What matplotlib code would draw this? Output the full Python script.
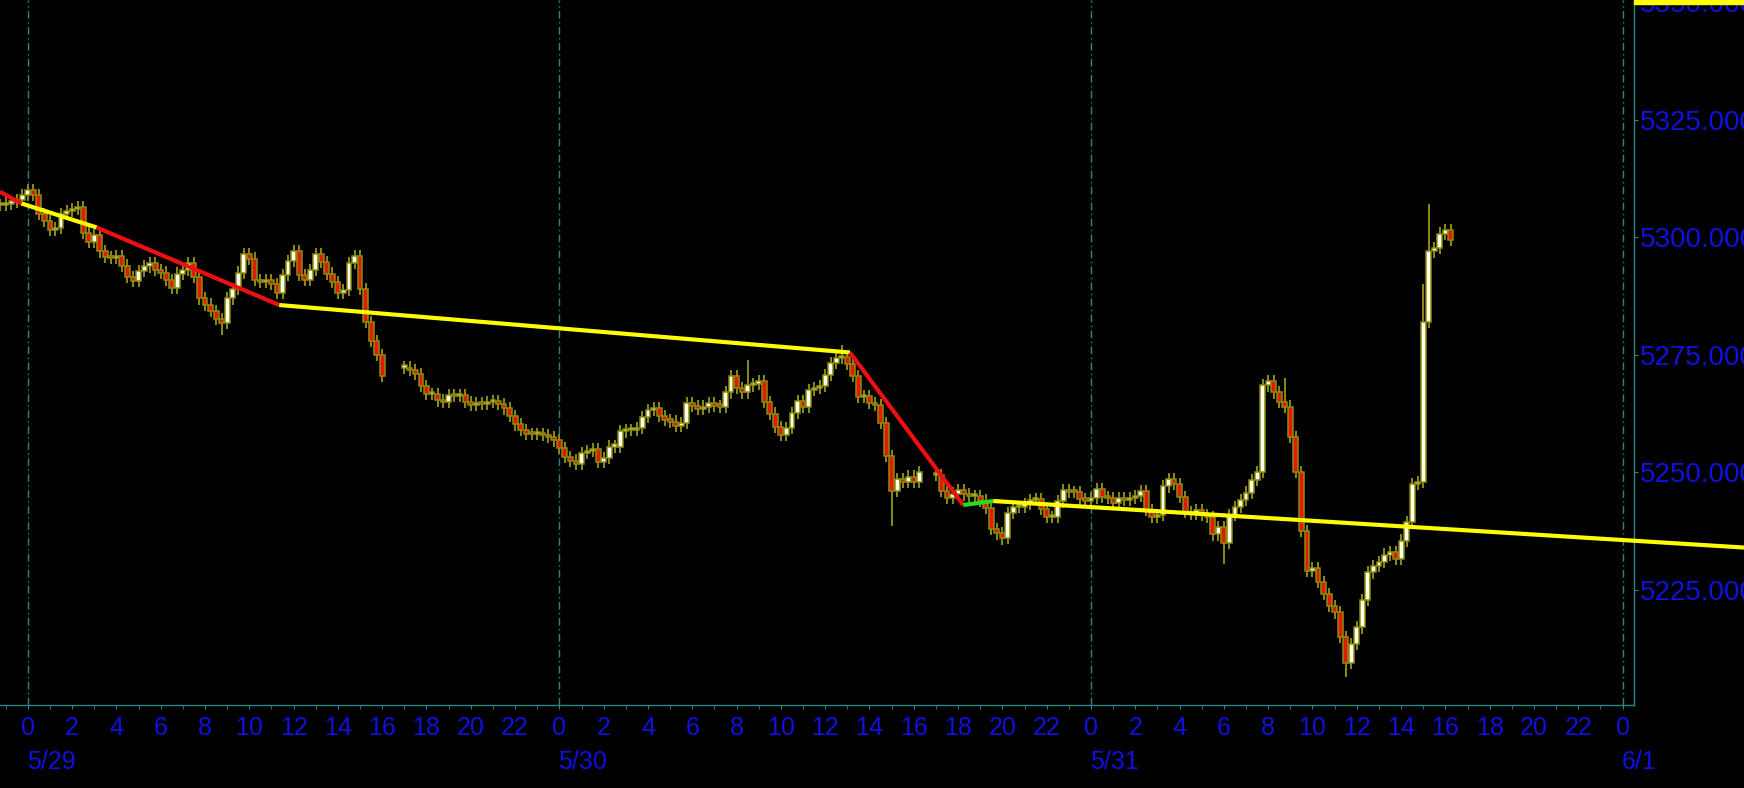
import numpy as np
import matplotlib
matplotlib.use("Agg")
import matplotlib.pyplot as plt
from matplotlib import font_manager
from matplotlib.ticker import MultipleLocator, FuncFormatter
from matplotlib.patches import Rectangle
import matplotlib.transforms as mtransforms

# 15-minute closes, time in hours from 5/29 00:00
s1_start = -1.25
s1_close = [5306.9, 5307.2, 5307.5, 5308.0, 5309.0,
            5310.0, 5309.0, 5305.0, 5303.4, 5301.5, 5302.0, 5305.0, 5305.6,
            5306.0, 5306.5, 5301.0, 5299.0, 5300.5, 5297.0, 5295.8, 5295.6,
            5296.0, 5294.0, 5291.5, 5290.8, 5292.8, 5293.8, 5294.5, 5293.0,
            5292.5, 5291.0, 5289.3, 5292.3, 5293.0, 5294.5, 5291.5, 5287.0,
            5285.7, 5284.4, 5282.6, 5281.7, 5287.0, 5289.0, 5292.5, 5296.5,
            5295.5, 5291.0, 5290.5, 5291.0, 5290.0, 5288.1, 5292.0, 5295.0,
            5297.0, 5292.0, 5291.0, 5293.0, 5296.5, 5294.8, 5292.3, 5290.5,
            5288.2, 5288.8, 5294.5, 5296.0, 5289.0, 5282.0, 5278.0, 5275.0,
            5270.5]

s2_start = 17.0
s2_close = [5272.3, 5271.8, 5271.0, 5268.3, 5266.6, 5266.7, 5265.3, 5265.0,
            5266.4, 5266.2, 5266.4, 5265.0, 5264.4, 5264.7, 5264.5, 5265.0,
            5265.1, 5264.5, 5263.6, 5262.0, 5260.2, 5259.0, 5258.2, 5258.1,
            5258.2, 5258.0, 5257.6, 5256.8, 5255.2, 5253.3, 5252.5, 5251.7,
            5254.1, 5254.5, 5255.0, 5252.3, 5253.0, 5255.5, 5255.5, 5258.7,
            5259.0, 5259.0, 5259.5, 5261.8, 5263.3, 5263.6, 5262.0, 5261.2,
            5260.8, 5259.9, 5260.5, 5264.7, 5264.1, 5263.5, 5264.0, 5264.8,
            5264.2, 5264.0, 5267.0, 5270.5, 5268.0, 5267.0, 5268.5, 5268.8,
            5269.4, 5265.0, 5262.5, 5259.7, 5258.0, 5259.5, 5262.6, 5265.2,
            5264.0, 5267.5, 5268.0, 5268.4, 5270.7, 5273.2, 5274.4, 5274.5,
            5273.0, 5270.5, 5266.1, 5266.3, 5264.8, 5264.4, 5260.5, 5253.5,
            5246.0, 5248.5, 5248.0, 5249.1, 5248.0, 5250.0]

s3_start = 41.0
s3_close = [5249.5, 5246.0, 5244.5, 5245.5, 5246.3, 5245.3, 5244.9, 5245.0,
            5244.0, 5242.5, 5238.0, 5237.0, 5236.0, 5241.3, 5242.7, 5242.7,
            5243.2, 5244.1, 5244.3, 5242.3, 5240.5, 5240.5, 5243.8, 5246.2,
            5245.9, 5245.8, 5244.4, 5244.0, 5244.5, 5246.5, 5244.8, 5244.5,
            5243.5, 5244.6, 5244.1, 5244.5, 5245.0, 5246.0, 5242.0, 5240.5,
            5241.0, 5247.0, 5248.5, 5247.6, 5244.8, 5241.6, 5241.2, 5242.0,
            5240.9, 5240.5, 5236.8, 5238.3, 5235.0, 5241.0, 5242.7, 5244.1,
            5245.7, 5248.4, 5250.0, 5268.5, 5269.5, 5267.0, 5265.0, 5264.0,
            5257.5, 5250.0, 5237.5, 5229.0, 5229.6, 5226.7, 5224.2, 5221.5,
            5220.2, 5215.0, 5209.5, 5213.5, 5217.0, 5222.8, 5228.7, 5230.0,
            5231.0, 5232.5, 5233.0, 5231.5, 5235.5, 5239.5, 5247.5, 5248.0,
            5282.0, 5297.0, 5297.7, 5300.8, 5301.5, 5299.5]

# notable wicks
spike_hi_h = [32.5, 36.75, 56.75, 63.25, 63.0]
spike_hi_p = [5274.0, 5277.0, 5270.0, 5307.0, 5290.0]
spike_lo_h = [8.75, 39.0, 44.0, 54.0, 59.5, 63.25]
spike_lo_p = [5279.2, 5238.5, 5234.5, 5230.5, 5206.5, 5289.0]
wick = 1.3

# drawn trend line
trend_h = [-1.255, -0.28, 3.11, 11.35, 37.12, 42.23, 43.59, 77.48]
trend_p = [5309.7, 5307.2, 5302.1, 5285.6, 5275.5, 5243.05, 5243.9, 5234.0]
trend_c = ["#ee1010", "#ffff00", "#ee1010", "#ffff00", "#ee1010", "#22dd22", "#ffff00"]

day_h = [0, 24, 48, 72]
day_labels = ["5/29", "5/30", "5/31", "6/1"]

names = {f.name for f in font_manager.fontManager.ttflist}
font = "Liberation Sans" if "Liberation Sans" in names else "DejaVu Sans"
plt.rcParams["font.family"] = [font, "DejaVu Sans"]

blue = "#1010e0"
teal = "#2a8686"
olive = "#8c8c10"

t_all, o_all, c_all = [], [], []
for start, closes in [(s1_start, s1_close), (s2_start, s2_close), (s3_start, s3_close)]:
    c = np.array(closes)
    t_all.append(start + 0.25 * np.arange(len(c)))
    o_all.append(np.r_[c[0], c[:-1]])
    c_all.append(c)
t = np.concatenate(t_all)
o = np.concatenate(o_all)
c = np.concatenate(c_all)
hi = np.maximum(o, c) + wick
lo = np.minimum(o, c) - wick
for h, v in zip(spike_hi_h, spike_hi_p):
    i = np.argmin(abs(t - h))
    hi[i] = max(hi[i], v)
for h, v in zip(spike_lo_h, spike_lo_p):
    i = np.argmin(abs(t - h))
    lo[i] = min(lo[i], v)

fig = plt.figure(figsize=(17.44, 7.88), dpi=100, facecolor="black")
ax = fig.add_axes([0, 1 - 705 / 788, 1634 / 1744, 705 / 788], facecolor="black")

for d in day_h:
    ax.axvline(d, color=teal, lw=1, ls=(0, (5.5, 2.5, 1, 2.5)), zorder=1)

up = c >= o
ax.vlines(t, lo, hi, color=olive, lw=1.4, zorder=2)
ax.bar(t, np.maximum(abs(c - o), 0.45), bottom=np.minimum(o, c), width=0.22,
       color=np.where(up, "#fffff0", "#e81800"), edgecolor=olive, linewidth=1.1, zorder=3)

for i, col in enumerate(trend_c):
    ax.plot(trend_h[i:i + 2], trend_p[i:i + 2], color=col, lw=3.0,
            solid_capstyle="butt", clip_on=False, zorder=5)

ax.set_xlim(-1.255, 72.515)
ax.set_ylim(5200.5, 5350.5)

for s in ["top", "left"]:
    ax.spines[s].set_visible(False)
for s in ["bottom", "right"]:
    ax.spines[s].set_color(teal)
    ax.spines[s].set_linewidth(1)

ax.yaxis.tick_right()
ax.yaxis.set_major_locator(MultipleLocator(25))
ax.yaxis.set_major_formatter(FuncFormatter(lambda v, p: f"{v:.3f}"))
ax.tick_params(axis="y", colors=teal, labelcolor=blue, labelsize=20, length=3, pad=1)

ax.xaxis.set_major_locator(MultipleLocator(2))
ax.xaxis.set_minor_locator(MultipleLocator(1))
ax.xaxis.set_major_formatter(FuncFormatter(lambda v, p: f"{int(round(v)) % 24}"))
ax.tick_params(axis="x", which="both", colors=teal, labelcolor=blue, labelsize=18, length=3, pad=5)

trans = mtransforms.blended_transform_factory(ax.transData, ax.transAxes)
for d, lab in zip(day_h, day_labels):
    ax.text(d - 0.05, -0.081, lab, transform=trans, ha="left", va="center",
            color=blue, fontsize=18, clip_on=False)

fig.patches.append(Rectangle((1634 / 1744, 1 - 4 / 788), 110 / 1744, 4 / 788,
                             transform=fig.transFigure, color="#ffff00", zorder=10))

fig.savefig("out.png", dpi=100, facecolor="black")
